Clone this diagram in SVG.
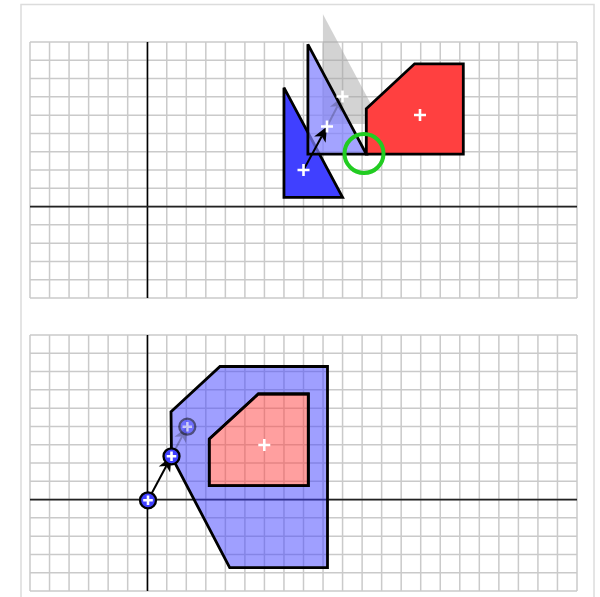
<svg xmlns="http://www.w3.org/2000/svg" width="600" height="597" viewBox="0 0 600 597">
<style>
.grid{fill:none;stroke:#cacaca;stroke-width:1.5}
.axis{stroke:#000;stroke-width:1.6}
.shape{stroke:#000;stroke-width:2.8;stroke-linejoin:miter}
.cross{stroke:#fff;stroke-width:2.6;fill:none}
.arr{stroke:#000;stroke-width:2;fill:none}
.head{fill:#000;stroke:none}
.pt{fill:#4040ff;stroke:#000;stroke-width:2.3}
</style>
<defs>
<g id="grid">
<path class="grid" d="M30 42V298M49.54 42V298M69.07 42V298M88.61 42V298M108.14 42V298M127.68 42V298M147.21 42V298M166.75 42V298M186.29 42V298M205.82 42V298M225.36 42V298M244.89 42V298M264.43 42V298M283.96 42V298M303.5 42V298M323.04 42V298M342.57 42V298M362.11 42V298M381.64 42V298M401.18 42V298M420.71 42V298M440.25 42V298M459.79 42V298M479.32 42V298M498.86 42V298M518.39 42V298M537.93 42V298M557.46 42V298M577 42V298"/>
<path class="grid" d="M30 42H577M30 60.29H577M30 78.57H577M30 96.86H577M30 115.14H577M30 133.43H577M30 151.71H577M30 170H577M30 188.29H577M30 206.57H577M30 224.86H577M30 243.14H577M30 261.43H577M30 279.71H577M30 298H577"/>
<line class="axis" x1="147.5" y1="42" x2="147.5" y2="298"/>
<line x1="30" y1="206.57" x2="577" y2="206.57" stroke="#222" stroke-width="1.8"/>
</g>
<path id="cr" class="cross" d="M-6 0H6M0 -6V6"/>
<path id="crs" class="cross" d="M-4.8 0H4.8M0 -4.8V4.8" stroke-width="2.3"/>
</defs>
<rect x="21" y="4.5" width="573" height="600" fill="#fff" stroke="#dcdcdc" stroke-width="1.5"/>
<use href="#grid"/>
<use href="#grid" y="293"/>

<g id="ghost-triangle">
<polygon points="322.96,14.2 322.96,123.93 381.57,123.93" fill="#a4a4a4" fill-opacity="0.48"/>
</g>
<g id="triangle-start">
<polygon class="shape" points="283.96,87.7 283.96,197.4 342.57,197.4" fill="#4040ff"/>
</g>
<g id="triangle-moved">
<polygon class="shape" points="307.9,44.3 307.9,154.2 366.3,154.2" fill="#8080ff" fill-opacity="0.72"/>
</g>
<g id="red-shape">
<polygon class="shape" points="366.3,108.7 414.6,63.8 463.3,63.8 463.3,154.2 366.3,154.2" fill="#ff4040"/>
</g>

<g id="minkowski-shape">
<path class="shape" fill="#4040ff" fill-opacity="0.5" fill-rule="evenodd" d="M171,411.7L220,366.5L327.5,366.5L327.5,567.7L229.7,567.7L171.5,456.3ZM209.3,439L258.3,394L308.3,394L308.3,485.7L209.3,485.7Z"/>
</g>
<g id="pink-shape">
<polygon class="shape" points="209.3,439 258.3,394 308.3,394 308.3,485.7 209.3,485.7" fill="#ff4040" fill-opacity="0.5"/>
</g>

<g id="connectors">
<g opacity="0.2">
<line class="arr" x1="327" y1="126.5" x2="337.45" y2="106.27"/>
<polygon class="head" points="342.5,96.5 341.39,112.8 337.45,106.27 329.85,106.84"/>
</g>
<line class="arr" x1="303.5" y1="170" x2="321.77" y2="136.18"/>
<polygon class="head" points="327,126.5 325.59,142.79 321.77,136.18 314.15,136.61"/>
<g opacity="0.25">
<line class="arr" x1="171.5" y1="456.3" x2="182.12" y2="436.4"/>
<polygon class="head" points="187.3,426.7 185.97,442.99 182.12,436.4 174.51,436.87"/>
</g>
<line class="arr" x1="148" y1="500.3" x2="166.29" y2="465.99"/>
<polygon class="head" points="171.5,456.3 170.12,472.6 166.29,465.99 158.66,466.44"/>
</g>

<g id="ghost-point" opacity="0.5">
<circle class="pt" cx="187.3" cy="426.7" r="8"/>
<use href="#crs" x="187.3" y="426.7"/>
</g>
<g id="origin-point">
<circle class="pt" cx="148" cy="500.3" r="8"/>
<use href="#crs" x="148" y="500.3"/>
</g>
<g id="moved-point">
<circle class="pt" cx="171.5" cy="456.3" r="8"/>
<use href="#crs" x="171.5" y="456.3"/>
</g>

<g id="centers">
<use href="#cr" x="342.5" y="96.5"/>
<use href="#cr" x="303.5" y="170"/>
<use href="#cr" x="327" y="126.5"/>
<use href="#cr" x="420" y="115"/>
<use href="#cr" x="264.3" y="445"/>
</g>
<g id="contact">
<circle cx="364" cy="153.5" r="19.5" fill="none" stroke="#22cc22" stroke-width="4"/>
</g>
</svg>
